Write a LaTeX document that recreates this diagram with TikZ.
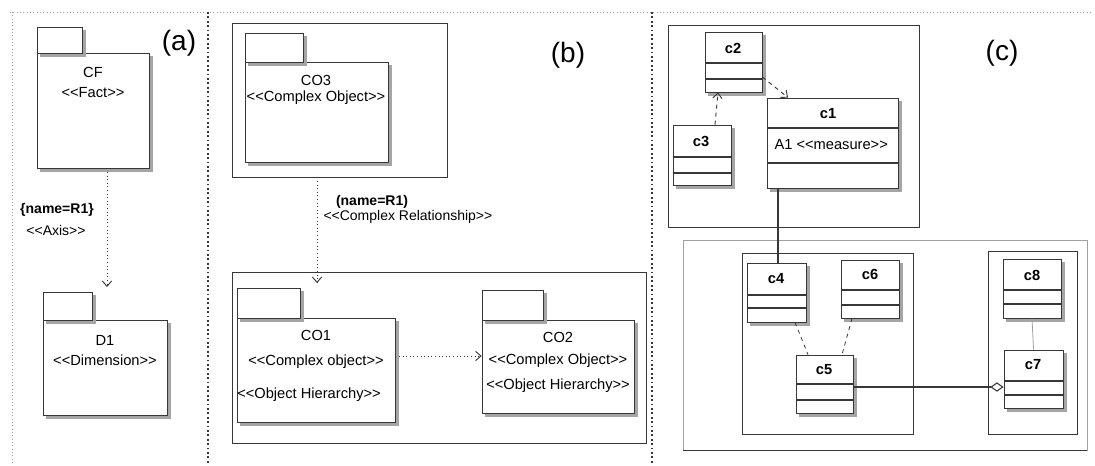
\documentclass[tikz,border=0pt]{standalone}
\usepackage{fontspec}
\setmainfont{Liberation Sans}
\usetikzlibrary{arrows.meta,fit}

\definecolor{linegray}{RGB}{55,55,55}
\definecolor{shadegray}{RGB}{165,165,165}
\definecolor{framegray}{RGB}{160,160,160}

\newcommand{\stereo}[1]{<\kern0pt<#1>\kern0pt>}
% gray shadow strip on the right and bottom of a box
\newcommand{\boxshadow}[1]{%
  \fill[shadegray] ([shift={(0.5,3)}]#1.north east) rectangle ([shift={(3.5,3.5)}]#1.south east);
  \fill[shadegray] ([shift={(3,0.5)}]#1.south west) rectangle ([shift={(3.5,3.5)}]#1.south east);}

\tikzset{every picture/.style={line width=0.75pt}}
\tikzset{
  pkgtab/.style={draw=linegray, fill=white, inner sep=0pt, line width=0.6pt},
  pkgbody/.style={draw=linegray, fill=white, inner sep=0pt, line width=0.6pt},
  clsbox/.style={pkgbody},
  holder/.style={draw=linegray, inner sep=0pt, line width=0.6pt},
  cmpline/.style={draw=linegray, line width=0.8pt},
  txt/.style={inner sep=0.75pt, font=\fontsize{11}{13}\selectfont},
  clsname/.style={inner sep=0.75pt, font=\fontsize{11}{13}\selectfont\bfseries},
  reltxt/.style={inner sep=0.75pt, font=\fontsize{10.5}{12}\selectfont},
  panellbl/.style={inner sep=0.75pt, font=\fontsize{21}{25}\selectfont},
  depline/.style={draw=linegray, dotted, line width=0.7pt, -{Straight Barb[length=4pt,width=7pt]}},
  sepline/.style={draw=linegray, dotted, line width=1.3pt},
  framedot/.style={draw=framegray, dotted, line width=0.5pt}
}

\begin{document}
\begin{tikzpicture}[x=0.75pt,y=0.75pt,yscale=-1,xscale=1]
\path[use as bounding box] (0,0) rectangle (1095,465);

%Panel frame and separators
\draw[framedot] (10,12) -- (1093,12);
\draw[framedot] (12,12) -- (12,465);
\draw[sepline] (208,12) -- (208,465);
\draw[sepline] (652,12) -- (652,465);

% ---------- (a) ----------
\draw (179,43) node [panellbl] (lbla) {(a)};

%Package CF
\node[pkgtab, fit={(37,27) (82,53)}] (cftab) {};
\node[pkgbody, fit={(37,53) (149,168)}] (cfbody) {};
\boxshadow{cftab} \boxshadow{cfbody}
% Text Node
\draw (93,72) node [txt] (cfname) {CF};
% Text Node
\draw (93,93) node [txt] (cfster) {\stereo{Fact}};

%Package D1
\node[pkgtab, fit={(43,292) (92,320)}] (dtab) {};
\node[pkgbody, fit={(43,320) (167,415)}] (dbody) {};
\boxshadow{dtab} \boxshadow{dbody}
% Text Node
\draw (105,340) node [txt] (dname) {D1};
% Text Node
\draw (105,360) node [txt] (dster) {\stereo{Dimension}};

%Axis relationship
\coordinate (dtop) at (107,287);
\draw[depline] (cfbody.south -| dtop) -- (dtop);
% Text Node
\draw (57,210) node [reltxt, font=\fontsize{10.5}{12}\selectfont\bfseries] (axname) {\{name=R1\}};
% Text Node
\draw (56,230) node [reltxt] (axster) {\stereo{Axis}};

% ---------- (b) ----------
\draw (568,55) node [panellbl] (lblb) {(b)};

%Upper holder with CO3
\node[holder, fit={(232,23) (447,177)}] (holdup) {};
\node[pkgtab, fit={(245,33) (303,62)}] (co3tab) {};
\node[pkgbody, fit={(245,62) (388,162)}] (co3body) {};
\boxshadow{co3tab} \boxshadow{co3body}
% Text Node
\draw (316,80) node [txt] (co3name) {CO3};
% Text Node
\draw (316,98) node [txt] (co3ster) {\stereo{Complex Object}};

%Lower holder with CO1 and CO2
\node[holder, fit={(232,272) (646,443)}] (holdlow) {};
\node[pkgtab, fit={(237,288) (300,318)}] (co1tab) {};
\node[pkgbody, fit={(237,318) (395,422)}] (co1body) {};
\boxshadow{co1tab} \boxshadow{co1body}
% Text Node
\draw (316,335) node [txt] (co1name) {CO1};
% Text Node
\draw (316,362) node [txt] (co1ster) {\stereo{Complex object}};
% Text Node
\draw (309,395) node [txt] (co1hier) {\stereo{Object Hierarchy}};

\node[pkgtab, fit={(482,290) (543,320)}] (co2tab) {};
\node[pkgbody, fit={(482,320) (634,413)}] (co2body) {};
\boxshadow{co2tab} \boxshadow{co2body}
% Text Node
\draw (558,337) node [txt] (co2name) {CO2};
% Text Node
\draw (558,361) node [txt] (co2ster) {\stereo{Complex Object}};
% Text Node
\draw (558,386) node [txt] (co2hier) {\stereo{Object Hierarchy}};

%Complex relationship
\coordinate (co1top) at (317,283);
\draw[depline] (holdup.south -| co1top) -- (co1top);
% Text Node
\draw (372,202) node [reltxt, font=\fontsize{10.5}{12}\selectfont\bfseries] (crname) {(name=R1)};
% Text Node
\draw (322,217) node [reltxt, anchor=west] (crster) {\stereo{Complex Relationship}};

%Hierarchy link
\coordinate (hierlvl) at (0,356);
\draw[depline] (co1body.east |- hierlvl) -- (co2body.west |- hierlvl);

% ---------- (c) ----------
\draw (1002,53) node [panellbl] (lblc) {(c)};

%Upper holder
\node[holder, fit={(668,25) (919,227)}] (holdc) {};

%Class c2
\node[clsbox, fit={(705,32) (762,92)}] (c2) {};
\boxshadow{c2}
\draw[cmpline] (c2.west |- 0,63) -- (c2.east |- 0,63);
\draw[cmpline] (c2.west |- 0,79) -- (c2.east |- 0,79);
\draw (733,48) node [clsname] (c2name) {c2};

%Class c3
\node[clsbox, fit={(673,125) (731,185)}] (c3) {};
\boxshadow{c3}
\draw[cmpline] (c3.west |- 0,157) -- (c3.east |- 0,157);
\draw[cmpline] (c3.west |- 0,173) -- (c3.east |- 0,173);
\draw (701,141) node [clsname] (c3name) {c3};

%Class c1
\node[clsbox, fit={(767,98) (898,188)}] (c1) {};
\boxshadow{c1}
\draw[cmpline] (c1.west |- 0,128) -- (c1.east |- 0,128);
\draw[cmpline] (c1.west |- 0,163) -- (c1.east |- 0,163);
\draw (828,114) node [clsname] (c1name) {c1};
\draw (773,145) node [txt, anchor=west] (c1attr) {A1 \stereo{measure}};

%Lower holders
\node[holder, draw=framegray, fit={(683,240) (1087,450)}] (holdlc) {};
\draw[draw=linegray, line width=1.2pt] (holdlc.south west) -- (holdlc.south east);
\node[holder, fit={(742,253) (913,434)}] (holdl) {};
\node[holder, fit={(988,251) (1077,434)}] (holdr) {};

%Class c4
\node[clsbox, fit={(747,263) (806,322)}] (c4) {};
\boxshadow{c4}
\draw[cmpline] (c4.west |- 0,295) -- (c4.east |- 0,295);
\draw[cmpline] (c4.west |- 0,308) -- (c4.east |- 0,308);
\draw (776,279) node [clsname] (c4name) {c4};

%Class c6
\node[clsbox, fit={(841,260) (899,318)}] (c6) {};
\boxshadow{c6}
\draw[cmpline] (c6.west |- 0,290) -- (c6.east |- 0,290);
\draw[cmpline] (c6.west |- 0,305) -- (c6.east |- 0,305);
\draw (870,274) node [clsname] (c6name) {c6};

%Class c5
\node[clsbox, fit={(796,355) (853,413)}] (c5) {};
\boxshadow{c5}
\draw[cmpline] (c5.west |- 0,384) -- (c5.east |- 0,384);
\draw[cmpline] (c5.west |- 0,400) -- (c5.east |- 0,400);
\draw (824,370) node [clsname] (c5name) {c5};

%Class c8
\node[clsbox, fit={(1003,259) (1061,318)}] (c8) {};
\boxshadow{c8}
\draw[cmpline] (c8.west |- 0,290) -- (c8.east |- 0,290);
\draw[cmpline] (c8.west |- 0,304) -- (c8.east |- 0,304);
\draw (1032,275) node [clsname] (c8name) {c8};

%Class c7
\node[clsbox, fit={(1004,350) (1063,408)}] (c7) {};
\boxshadow{c7}
\draw[cmpline] (c7.west |- 0,381) -- (c7.east |- 0,381);
\draw[cmpline] (c7.west |- 0,395) -- (c7.east |- 0,395);
\draw (1033,365) node [clsname] (c7name) {c7};

%Links
\draw[depline, dashed] (c2.east |- 0,77) -- (c1.north -| 788,0);
\draw[depline, dashed] (c3.north -| 715,0) -- (c2.south -| 718,0);
\draw[draw=linegray, line width=0.8pt] (c4.north -| 778,0) -- (c1.south -| 778,0);
\draw[draw=linegray, dashed, line width=0.6pt] (c4.south -| 795,0) -- (c5.north -| 808,0);
\draw[draw=linegray, dashed, line width=0.6pt] (c6.south -| 852,0) -- (c5.north -| 842,0);
\draw[draw=framegray, line width=0.6pt] (c8.south) -- (c7.north);
\draw[draw=linegray, line width=0.8pt, -{Diamond[open, length=10pt, width=7pt]}] (c5.east |- 0,387) -- (c7.west |- 0,387);

\end{tikzpicture}
\end{document}
